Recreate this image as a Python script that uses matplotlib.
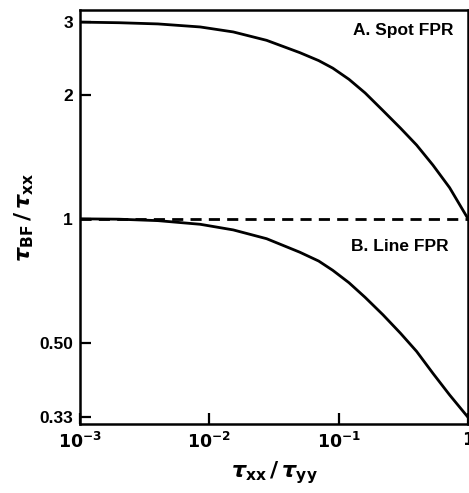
import matplotlib
matplotlib.use("Agg")
import matplotlib.pyplot as plt
from matplotlib.ticker import FixedLocator, FixedFormatter, NullLocator

# values
ratio = [0.001, 0.002, 0.004, 0.0085, 0.0153, 0.0277, 0.05, 0.07, 0.09, 0.12, 0.16,
         0.22, 0.3, 0.4, 0.535, 0.72, 1.0]
spot_fpr = [3.0, 2.99, 2.97, 2.92, 2.84, 2.71, 2.53, 2.42, 2.32, 2.18, 2.02,
            1.83, 1.66, 1.51, 1.35, 1.19, 1.0]
line_fpr = [1.0, 0.998, 0.99, 0.97, 0.94, 0.895, 0.83, 0.79, 0.75, 0.70, 0.645,
            0.585, 0.528, 0.477, 0.422, 0.374, 0.33]

y_ticks = [0.33, 0.50, 1, 2, 3]
y_labels = ["0.33", "0.50", "1", "2", "3"]
x_ticks = [1e-3, 1e-2, 1e-1, 1]
x_labels = [r"$\mathbf{10^{-3}}$", r"$\mathbf{10^{-2}}$", r"$\mathbf{10^{-1}}$", r"$\mathbf{1}$"]

plt.rcParams["font.family"] = ["Liberation Sans", "DejaVu Sans"]
plt.rcParams["font.weight"] = "bold"
plt.rcParams["mathtext.fontset"] = "dejavusans"

fig = plt.figure(figsize=(4.69, 4.93), dpi=100)
ax = fig.add_axes([0.1706, 0.140, 0.8274, 0.8397])

ax.plot(ratio, spot_fpr, color="black", lw=2.0)
ax.plot(ratio, line_fpr, color="black", lw=2.0)
ax.axhline(1.0, color="black", lw=2.0, ls=(0, (4, 2.6)))

ax.set_xscale("log")
ax.set_yscale("log")
ax.set_xlim(1e-3, 1)
ax.set_ylim(0.318, 3.21)

ax.yaxis.set_major_locator(FixedLocator(y_ticks))
ax.yaxis.set_major_formatter(FixedFormatter(y_labels))
ax.yaxis.set_minor_locator(NullLocator())
ax.xaxis.set_major_locator(FixedLocator(x_ticks))
ax.xaxis.set_major_formatter(FixedFormatter(x_labels))
ax.xaxis.set_minor_locator(NullLocator())

ax.tick_params(direction="in", length=8, width=1.6, labelsize=12.5, pad=5)
for s in ax.spines.values():
    s.set_linewidth(1.8)

ax.text(0.962, 0.968, "A. Spot FPR", transform=ax.transAxes, ha="right", va="top",
        fontsize=12.5, fontweight="bold")
ax.text(0.95, 0.448, "B. Line FPR", transform=ax.transAxes, ha="right", va="top",
        fontsize=12.5, fontweight="bold")

ax.set_xlabel(r"$\tau_{\mathbf{xx}}\,/\,\tau_{\mathbf{yy}}$", fontsize=16, labelpad=6)
ax.set_ylabel(r"$\tau_{\mathbf{BF}}\,/\,\tau_{\mathbf{xx}}$", fontsize=16, labelpad=2)

fig.savefig("out.png", dpi=100)
